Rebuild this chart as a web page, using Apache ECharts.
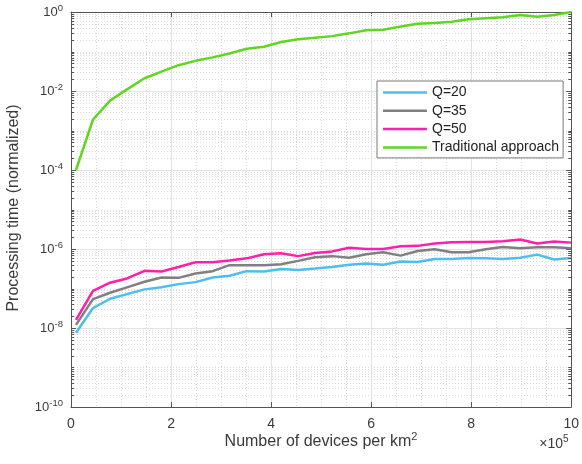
<!DOCTYPE html>
<html>
<head>
<meta charset="utf-8">
<script src="https://cdn.jsdelivr.net/npm/echarts@6/dist/echarts.min.js"></script>
<style>
  html, body { margin: 0; padding: 0; background: #fff; }
  #chart { width: 582px; height: 464px; }
</style>
</head>
<body>
<div id="chart"></div>
<script>
// Device density (in units of 1e5 devices per km^2)
const devices = [0.1, 0.44, 0.78, 1.12, 1.47, 1.81, 2.15, 2.49, 2.83, 3.17,
  3.51, 3.86, 4.2, 4.54, 4.88, 5.22, 5.56, 5.9, 6.24, 6.59,
  6.93, 7.27, 7.61, 7.95, 8.29, 8.63, 8.98, 9.32, 9.66, 10];

// Normalized processing time for each scheme
const q20 = [7.6e-9, 3.2e-8, 5.5e-8, 7.2e-8, 9.5e-8, 1.07e-7, 1.29e-7, 1.45e-7, 1.9e-7, 2.1e-7,
  2.75e-7, 2.7e-7, 3.1e-7, 2.95e-7, 3.2e-7, 3.5e-7, 4.0e-7, 4.3e-7, 4.0e-7, 4.8e-7,
  4.7e-7, 5.6e-7, 5.6e-7, 5.9e-7, 5.8e-7, 5.6e-7, 6.0e-7, 7.2e-7, 5.4e-7, 5.9e-7];
const q35 = [1.2e-8, 5.4e-8, 7.8e-8, 1.07e-7, 1.48e-7, 1.9e-7, 1.86e-7, 2.4e-7, 2.75e-7, 3.9e-7,
  3.9e-7, 3.9e-7, 4.1e-7, 5.0e-7, 6.2e-7, 6.6e-7, 6.0e-7, 7.4e-7, 8.3e-7, 6.8e-7,
  8.9e-7, 9.8e-7, 8.3e-7, 8.3e-7, 9.8e-7, 1.12e-6, 1.05e-6, 1.1e-6, 1.1e-6, 1.05e-6];
const q50 = [1.6e-8, 8.7e-8, 1.4e-7, 1.8e-7, 2.8e-7, 2.7e-7, 3.5e-7, 4.6e-7, 4.6e-7, 5.1e-7,
  5.8e-7, 7.4e-7, 7.8e-7, 6.6e-7, 7.9e-7, 8.7e-7, 1.07e-6, 1.0e-6, 1.0e-6, 1.17e-6,
  1.2e-6, 1.38e-6, 1.48e-6, 1.51e-6, 1.51e-6, 1.58e-6, 1.74e-6, 1.38e-6, 1.55e-6, 1.45e-6];
const traditional = [1e-4, 1.9e-3, 5.7e-3, 1.1e-2, 2.1e-2, 3.1e-2, 4.5e-2, 5.8e-2, 7.1e-2, 8.9e-2,
  0.117, 0.132, 0.174, 0.204, 0.224, 0.245, 0.288, 0.347, 0.355, 0.427,
  0.501, 0.525, 0.569, 0.653, 0.692, 0.733, 0.839, 0.759, 0.839, 1.0];

const seriesNames = ['Q=20', 'Q=35', 'Q=50', 'Traditional approach'];
const seriesValues = [q20, q35, q50, traditional];
const seriesColors = ['#4dbeee', '#808080', '#ff1fa8', '#5fd622'];

// x tick labels (0..10, scaled by 1e5)
const xTicks = [0, 2, 4, 6, 8, 10];

const FONT = 'Liberation Sans, Arial, sans-serif';
const TEXT = '#3a3a3a';
const AXIS = '#555';

// Minor log positions: 2..9 x 10^k for every decade, plus the odd decades
const minorY = [];
for (let d = -10; d < 0; d++) {
  if (d % 2 !== 0) minorY.push(Math.pow(10, d));
  for (let k = 2; k <= 9; k++) minorY.push(k * Math.pow(10, d));
}

const chart = echarts.init(document.getElementById('chart'), null, { renderer: 'canvas' });

const series = seriesNames.map((name, i) => ({
  name: name,
  type: 'line',
  symbol: 'none',
  z: 3,
  lineStyle: { width: 2.5, color: seriesColors[i] },
  itemStyle: { color: seriesColors[i] },
  data: devices.map((x, j) => [x, seriesValues[i][j]])
}));

const expLabel = v => '{b|10}{s|' + Math.round(Math.log10(v)) + '}';

const texts = [{
  type: 'text',
  x: 14, y: 208,
  rotation: Math.PI / 2,
  style: {
    text: 'Processing time (normalized)',
    font: '16px ' + FONT,
    fill: TEXT,
    textAlign: 'center',
    textVerticalAlign: 'middle'
  }
}, {
  type: 'text',
  x: 321, y: 442,
  style: {
    text: '{a|Number of devices per km}{s|2}',
    textAlign: 'center',
    textVerticalAlign: 'middle',
    rich: {
      a: { fontFamily: FONT, fontSize: 16, fill: TEXT, lineHeight: 20 },
      s: { fontFamily: FONT, fontSize: 11, fill: TEXT, lineHeight: 20, padding: [0, 0, 10, 0] }
    }
  }
}, {
  type: 'text',
  x: 554, y: 444,
  style: {
    text: '{a|\u00d710}{s|5}',
    textAlign: 'center',
    textVerticalAlign: 'middle',
    rich: {
      a: { fontFamily: FONT, fontSize: 14, fill: TEXT, lineHeight: 18 },
      s: { fontFamily: FONT, fontSize: 10, fill: TEXT, lineHeight: 18, padding: [0, 0, 9, 0] }
    }
  }
}];

chart.setOption({
  animation: false,
  backgroundColor: '#fff',
  textStyle: { fontFamily: FONT },
  grid: { left: 71, right: 9, top: 12, bottom: 57, containLabel: false },
  legend: {
    data: seriesNames,
    orient: 'vertical',
    left: 377,
    top: 81,
    icon: 'rect',
    itemWidth: 44,
    itemHeight: 2.5,
    itemGap: 3.3,
    padding: [4, 4, 3, 6],
    backgroundColor: '#fff',
    borderColor: '#7a7a7a',
    borderWidth: 1,
    borderRadius: 0,
    textStyle: { fontFamily: FONT, fontSize: 14, color: '#222', lineHeight: 15 }
  },
  xAxis: [{
    type: 'value',
    min: 0, max: 10, interval: 2,
    axisLine: { show: true, onZero: false, lineStyle: { color: AXIS, width: 1 } },
    axisTick: { show: true, inside: true, length: 5, lineStyle: { color: AXIS } },
    axisLabel: {
      fontFamily: FONT, fontSize: 14, color: TEXT, margin: 10,
      customValues: xTicks
    },
    splitLine: { show: true, lineStyle: { color: '#e2e2e2', width: 1 } },
    minorTick: { show: false, splitNumber: 4 },
    minorSplitLine: { show: true, lineStyle: { type: [1, 2], color: '#dadada', width: 1 } }
  }, {
    type: 'value',
    position: 'top',
    min: 0, max: 10, interval: 2,
    axisLine: { show: true, onZero: false, lineStyle: { color: AXIS, width: 1 } },
    axisTick: { show: true, inside: true, length: 5, lineStyle: { color: AXIS } },
    axisLabel: { show: false },
    splitLine: { show: false }
  }],
  yAxis: [{
    type: 'log',
    logBase: 10,
    min: 1e-10, max: 1, interval: 2,
    axisLine: { show: true, onZero: false, lineStyle: { color: AXIS, width: 1 } },
    axisTick: { show: true, inside: true, length: 5, lineStyle: { color: AXIS } },
    axisLabel: {
      formatter: expLabel,
      margin: 8,
      color: TEXT,
      rich: {
        b: { fontFamily: FONT, fontSize: 13, color: TEXT, lineHeight: 16 },
        s: { fontFamily: FONT, fontSize: 9.5, color: TEXT, lineHeight: 16, padding: [0, 0, 8, 0] }
      }
    },
    splitLine: { show: true, lineStyle: { color: '#e2e2e2', width: 1 } }
  }, {
    type: 'log',
    logBase: 10,
    position: 'right',
    min: 1e-10, max: 1, interval: 2,
    axisLine: { show: true, onZero: false, lineStyle: { color: AXIS, width: 1 } },
    axisTick: { show: true, inside: true, length: 5, lineStyle: { color: AXIS } },
    axisLabel: { show: false },
    splitLine: { show: false }
  }],
  graphic: texts,
  series: series
});

// Minor log grid and minor ticks, placed through the axis scales
const xLeft = chart.convertToPixel({ xAxisIndex: 0 }, 0);
const xRight = chart.convertToPixel({ xAxisIndex: 0 }, 10);
const minorGraphics = [];
minorY.forEach(v => {
  const y = Math.round(chart.convertToPixel({ yAxisIndex: 0 }, v)) + 0.5;
  minorGraphics.push({
    type: 'line', silent: true, z: 1,
    shape: { x1: xLeft, y1: y, x2: xRight, y2: y },
    style: { stroke: '#dadada', lineWidth: 1, lineDash: [1, 2] }
  });
  minorGraphics.push({
    type: 'line', silent: true, z: 5,
    shape: { x1: xLeft, y1: y, x2: xLeft + 3, y2: y },
    style: { stroke: AXIS, lineWidth: 1 }
  });
  minorGraphics.push({
    type: 'line', silent: true, z: 5,
    shape: { x1: xRight - 3, y1: y, x2: xRight, y2: y },
    style: { stroke: AXIS, lineWidth: 1 }
  });
});

chart.setOption({ graphic: texts.concat(minorGraphics) });
</script>
</body>
</html>
